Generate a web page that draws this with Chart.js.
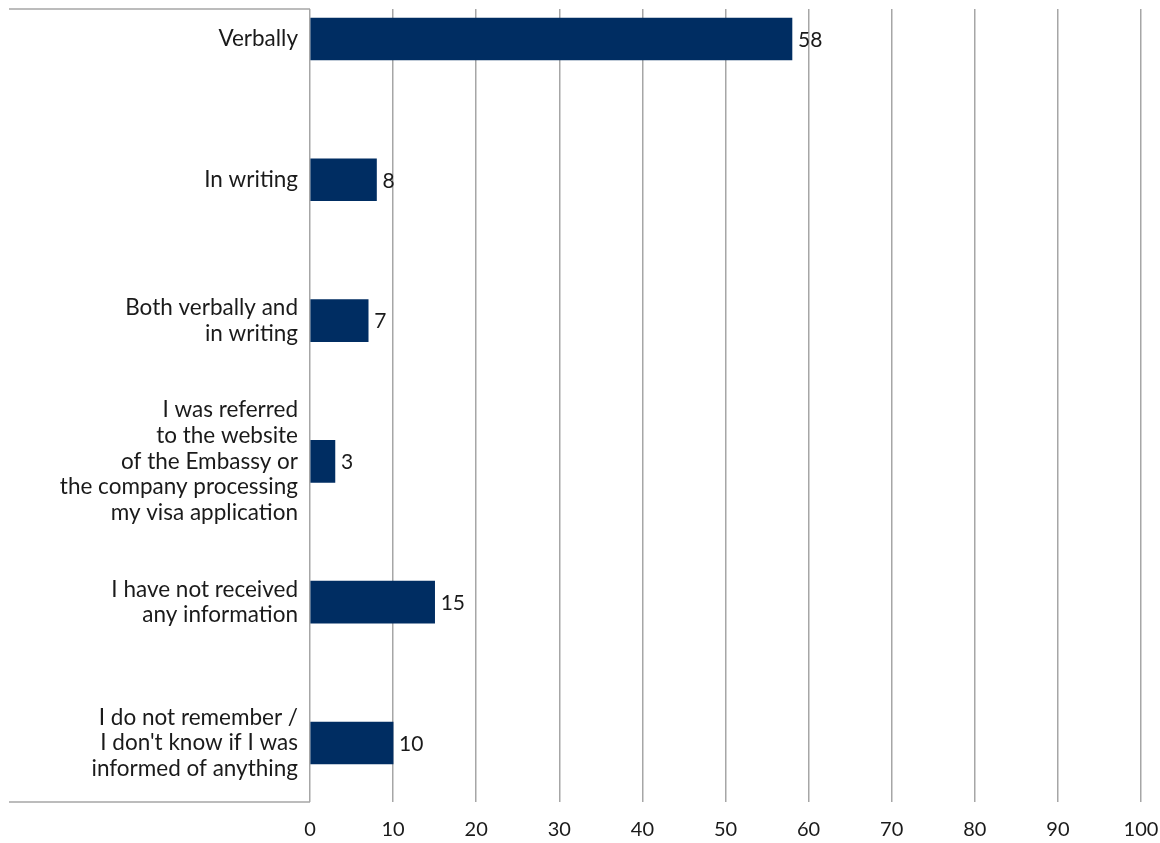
<!DOCTYPE html>
<html>
<head>
<meta charset="utf-8">
<script src="https://cdn.jsdelivr.net/npm/chart.js@4/dist/chart.umd.min.js"></script>
<style>
  html, body { margin: 0; padding: 0; background: #fff; }
  #wrap { width: 1160px; height: 843px; }
</style>
</head>
<body>
<div id="wrap"><canvas id="chart"></canvas></div>
<script>
// categories (lines as in the picture)
const categories = [
  ["Verbally"],
  ["In writing"],
  ["Both verbally and", "in writing"],
  ["I was referred", "to the website", "of the Embassy or", "the company processing", "my visa application"],
  ["I have not received", "any information"],
  ["I do not remember /", "I don't know if I was", "informed of anything"]
];
const values = [58, 8, 7, 3, 15, 10];
const xTicks = [0, 10, 20, 30, 40, 50, 60, 70, 80, 90, 100];

const FONT = "Lato, 'Open Sans', sans-serif";

// valeurs à droite des barres
const valueLabels = {
  id: 'valueLabels',
  afterDatasetsDraw(chart) {
    const ctx = chart.ctx;
    const meta = chart.getDatasetMeta(0);
    ctx.save();
    ctx.font = "21px " + FONT;
    ctx.fillStyle = "#1a1a1a";
    ctx.textAlign = "left";
    ctx.textBaseline = "middle";
    meta.data.forEach((bar, i) => {
      ctx.fillText(String(values[i]), bar.x + 6, bar.y + 1);
    });
    ctx.restore();
  }
};

// cadre autour des libellés (haut et bas seulement)
const labelBox = {
  id: 'labelBox',
  beforeDatasetsDraw(chart) {
    const { ctx, chartArea } = chart;
    ctx.save();
    ctx.strokeStyle = "#a6a6a6";
    ctx.lineWidth = 1.5;
    ctx.beginPath();
    ctx.moveTo(9, chartArea.top);
    ctx.lineTo(chartArea.left, chartArea.top);
    ctx.moveTo(9, chartArea.bottom);
    ctx.lineTo(chartArea.left, chartArea.bottom);
    ctx.stroke();
    ctx.restore();
  }
};

new Chart(document.getElementById('chart'), {
  type: 'bar',
  data: {
    datasets: [{
      data: values.map((v, i) => ({ x: v, y: i })),
      backgroundColor: '#002d62',
      borderWidth: 0,
      barThickness: 42
    }]
  },
  options: {
    indexAxis: 'y',
    responsive: true,
    maintainAspectRatio: false,
    animation: false,
    layout: { padding: { top: 9, right: 19, left: 0, bottom: 0 } },
    plugins: {
      legend: { display: false },
      tooltip: { enabled: false }
    },
    scales: {
      x: {
        type: 'linear',
        min: 0,
        max: 100,
        afterBuildTicks: s => { s.ticks = xTicks.map(v => ({ value: v })); },
        grid: { color: '#a6a6a6', lineWidth: 1.5, drawTicks: false },
        border: { display: false },
        ticks: { color: '#1a1a1a', font: { family: FONT, size: 20 }, padding: 16, maxRotation: 0, autoSkip: false },
        afterFit: s => { s.height = 41; s.paddingLeft = 0; s.paddingRight = 0; }
      },
      y: {
        type: 'linear',
        reverse: true,
        offset: false,
        min: -0.213,
        max: 5.419,
        afterBuildTicks: s => { s.ticks = categories.map((_, i) => ({ value: i })); },
        grid: { display: false, drawTicks: false, offset: false },
        border: { display: false },
        ticks: {
          color: '#1a1a1a',
          font: { family: FONT, size: 22.5, lineHeight: 1.14 },
          padding: 12,
          autoSkip: false,
          callback: v => categories[v]
        },
        afterFit: s => { s.width = 310; s.paddingTop = 0; s.paddingBottom = 0; }
      }
    }
  },
  plugins: [labelBox, valueLabels]
});
</script>
</body>
</html>
